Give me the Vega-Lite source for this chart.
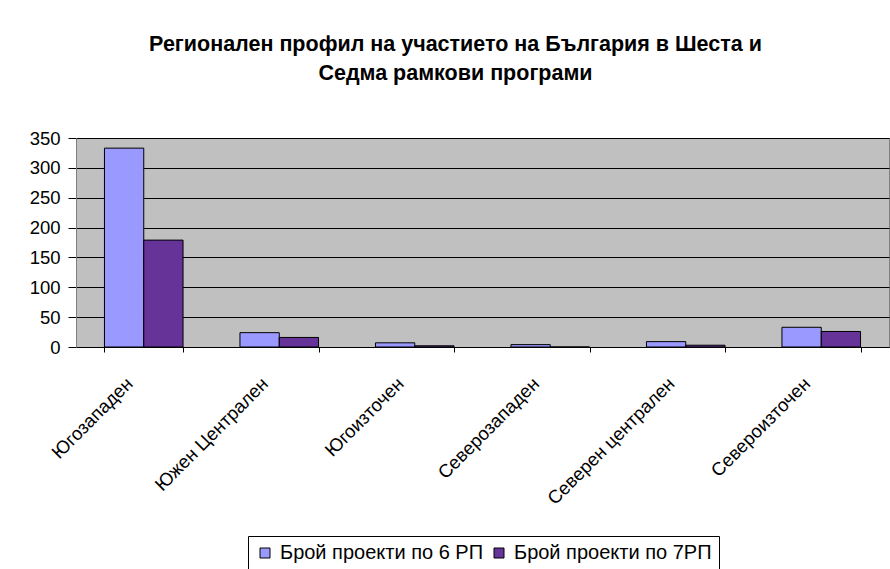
{
  "$schema": "https://vega.github.io/schema/vega-lite/v6.json",
  "width": 813,
  "height": 209,
  "autosize": {"type": "none"},
  "padding": {"left": 76, "top": 138, "right": 1, "bottom": 222},
  "background": "white",
  "title": {
    "text": ["Регионален профил на участието на България в Шеста и", "Седма рамкови програми"],
    "font": "Liberation Sans",
    "fontSize": 21.5,
    "fontWeight": "bold",
    "lineHeight": 28.5,
    "offset": 45,
    "dx": -27,
    "anchor": "middle",
    "color": "black"
  },
  "data": {
    "values": [
      {"region": "Югозападен", "series": "Брой проекти по 6 РП", "value": 333},
      {"region": "Югозападен", "series": "Брой проекти по 7РП", "value": 179},
      {"region": "Южен Централен", "series": "Брой проекти по 6 РП", "value": 24},
      {"region": "Южен Централен", "series": "Брой проекти по 7РП", "value": 16},
      {"region": "Югоизточен", "series": "Брой проекти по 6 РП", "value": 7},
      {"region": "Югоизточен", "series": "Брой проекти по 7РП", "value": 2},
      {"region": "Северозападен", "series": "Брой проекти по 6 РП", "value": 4},
      {"region": "Северозападен", "series": "Брой проекти по 7РП", "value": 0},
      {"region": "Северен централен", "series": "Брой проекти по 6 РП", "value": 9},
      {"region": "Северен централен", "series": "Брой проекти по 7РП", "value": 3},
      {"region": "Североизточен", "series": "Брой проекти по 6 РП", "value": 33},
      {"region": "Североизточен", "series": "Брой проекти по 7РП", "value": 26}
    ]
  },
  "mark": {"type": "bar", "stroke": "black", "strokeWidth": 1},
  "encoding": {
    "x": {
      "field": "region",
      "type": "nominal",
      "sort": null,
      "scale": {"paddingInner": 0.42, "paddingOuter": 0.21},
      "axis": {
        "title": null,
        "labelAngle": -45,
        "labelAlign": "right",
        "labelBaseline": "top",
        "labelFont": "Liberation Sans",
        "labelFontSize": 18.5,
        "labelColor": "black",
        "labelPadding": 22,
        "labelOffset": -21,
        "tickBand": "extent",
        "tickSize": 5,
        "tickColor": "black",
        "domainColor": "black",
        "grid": false,
        "labelLimit": 300
      }
    },
    "xOffset": {
      "field": "series",
      "type": "nominal",
      "scale": {"paddingInner": 0, "paddingOuter": 0, "domain": ["Брой проекти по 6 РП", "Брой проекти по 7РП"]}
    },
    "y": {
      "field": "value",
      "type": "quantitative",
      "scale": {"domain": [0, 350], "nice": false},
      "axis": {
        "title": null,
        "values": [0, 50, 100, 150, 200, 250, 300, 350],
        "labelFont": "Liberation Sans",
        "labelFontSize": 18.5,
        "labelColor": "black",
        "labelPadding": 8,
        "tickSize": 8,
        "tickColor": "black",
        "domainColor": "#808080",
        "gridColor": "black",
        "gridOpacity": 1,
        "gridWidth": 1
      }
    },
    "color": {
      "field": "series",
      "type": "nominal",
      "scale": {"domain": ["Брой проекти по 6 РП", "Брой проекти по 7РП"], "range": ["#9999FF", "#663399"]},
      "legend": {
        "orient": "none",
        "legendX": 172,
        "legendY": 398,
        "direction": "horizontal",
        "title": null,
        "labelFont": "Liberation Sans",
        "labelFontSize": 20,
        "labelColor": "black",
        "labelLimit": 400,
        "labelOffset": 5,
        "symbolType": "square",
        "symbolSize": 100,
        "symbolStrokeColor": "black",
        "symbolStrokeWidth": 1,
        "symbolOpacity": 1,
        "strokeColor": "black",
        "padding": 7,
        "columnPadding": 5
      }
    }
  },
  "config": {
    "view": {"fill": "#C0C0C0", "stroke": "#808080", "strokeWidth": 1}
  }
}
